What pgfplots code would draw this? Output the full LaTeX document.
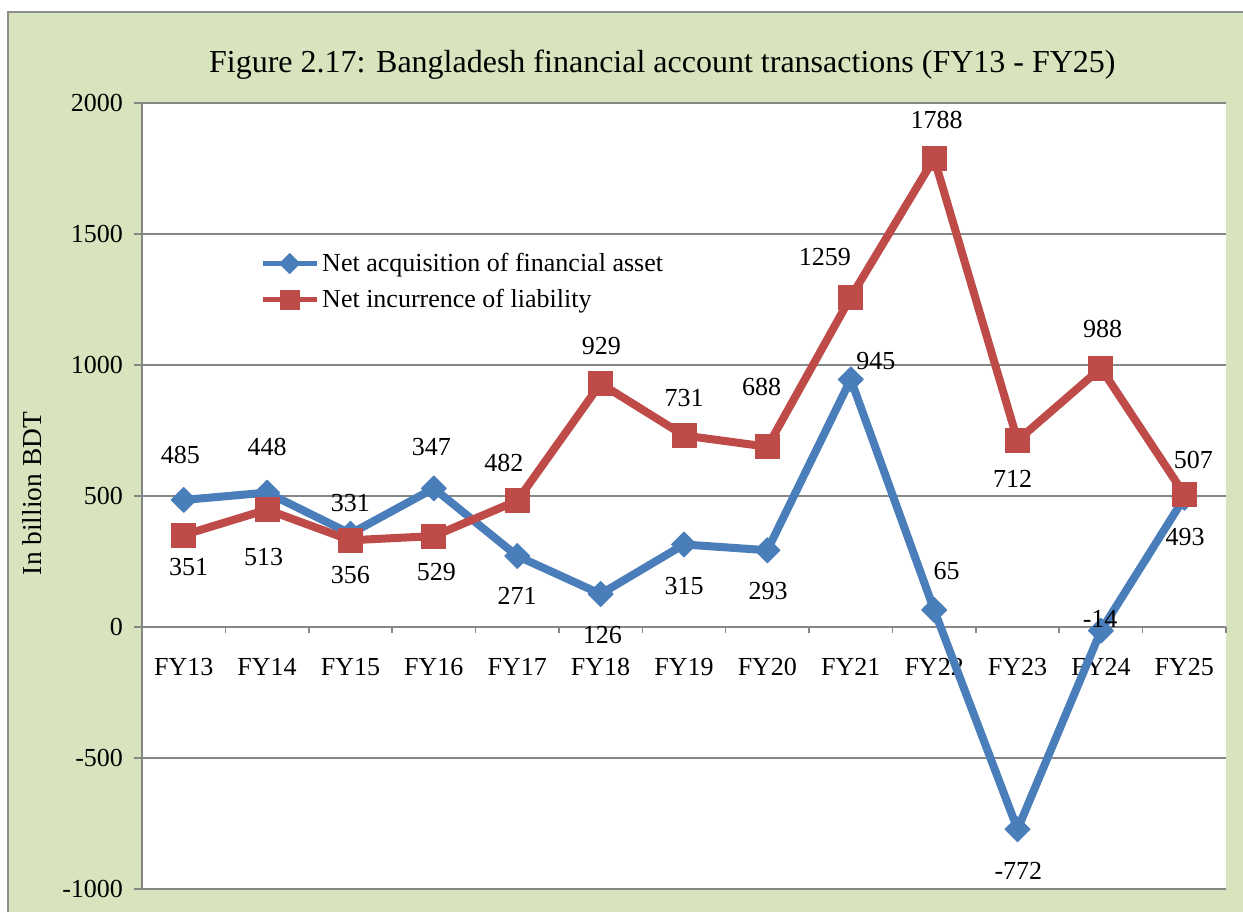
\documentclass[border=0pt]{standalone}
\usepackage{pgfplots}
\usepackage{pgfplotstable}
\pgfplotsset{compat=1.18}
\usepackage{fontspec}
\setmainfont{Liberation Serif}
\definecolor{bg}{HTML}{D7E4BD}
\definecolor{framec}{HTML}{8C8C8C}
\definecolor{gridc}{HTML}{868686}
\definecolor{sblue}{HTML}{4A7EBB}
\definecolor{sred}{HTML}{BE4B48}
\newcommand{\fs}{\fontsize{13}{15.6}\selectfont}

\pgfplotstableread{
x y
0 485
1 513
2 356
3 529
4 271
5 126
6 315
7 293
8 945
9 65
10 -772
11 -14
12 493
}\blueseries

\pgfplotstableread{
x y
0 351
1 448
2 331
3 347
4 482
5 929
6 731
7 688
8 1259
9 1788
10 712
11 988
12 507
}\redseries

% data label positions (x, y of label centre, text)
\pgfplotstableread{
x y l
-0.04 656 485
0.06 229 351
1.0 687 448
0.96 267 513
2.0 473 331
2.0 198 356
2.97 687 347
3.03 210 529
3.84 626 482
4.0 118 271
5.01 1073 929
5.02 -31 126
6.0 874 731
6.0 156 315
6.93 916 688
7.01 137 293
7.69 1412 1259
8.30 1015 945
9.03 1935 1788
9.15 214 65
9.94 565 712
10.01 -931 -772
11.02 1137 988
10.99 31 -14
12.11 637 507
12.01 343 493
}\labeltable

\begin{document}
\begin{tikzpicture}
\useasboundingbox (0,0) rectangle (621.5pt,456pt);
\fill[white] (0,0) rectangle (621.5pt,456pt);
\fill[bg] (4pt,0) rectangle (621.5pt,450pt);
\draw[framec,line width=1pt] (4pt,0) -- (4pt,450pt) -- (621.5pt,450pt);
\begin{axis}[
  at={(71pt,11.5pt)}, anchor=south west,
  scale only axis, width=542pt, height=393pt,
  xmin=-0.5, xmax=12.5, ymin=-1000, ymax=2000,
  axis background/.style={fill=white},
  axis x line*=middle, axis y line*=left,
  axis line style={gridc, line width=0.75pt},
  xtick={0,...,12},
  xticklabels={FY13,FY14,FY15,FY16,FY17,FY18,FY19,FY20,FY21,FY22,FY23,FY24,FY25},
  minor xtick={-0.5,0.5,...,12.5},
  major x tick style={draw=none},
  minor x tick style={gridc, line width=0.75pt},
  minor tick length=3pt,
  major tick length=4pt,
  tick align=outside,
  ytick={-1000,-500,...,2000},
  ymajorgrids,
  grid style={gridc, line width=0.75pt},
  ytick style={gridc, line width=0.75pt},
  tick label style={font=\fs},
  /pgf/number format/assume math mode=true,
  /pgf/number format/1000 sep={},
  xticklabel style={yshift=-8pt},
  yticklabel style={xshift=-2pt},
  ylabel={In billion BDT},
  every axis y label/.style={at={(axis description cs:-0.101,0.503)}, rotate=90, anchor=center, font=\fontsize{13.7}{16}\selectfont},
  title={Figure 2.17: Bangladesh financial account transactions (FY13 - FY25)},
  title style={at={(axis description cs:0.48,1)}, anchor=center, yshift=13pt, font=\fontsize{16}{19}\selectfont},
  legend style={at={(axis description cs:0.103,0.82)}, anchor=north west, draw=none, fill=none, font=\fs, row sep=3.5pt, nodes={inner xsep=1.5pt}},
  legend cell align=left,
  legend image code/.code={\draw[line width=2.6pt, mark repeat=2,mark phase=2, every mark/.append style={scale=0.8}] plot coordinates {(0pt,0pt) (13.5pt,0pt) (27pt,0pt)};},
  clip=false,
]
\addplot[sblue, line width=4pt, line join=round, mark=square*, mark size=4.4pt, mark options={rotate=45, solid, line width=0.5pt}] table {\blueseries};
\addlegendentry{Net acquisition of financial asset}
\addplot[sred, line width=4pt, line join=round, mark=square*, mark size=6pt, mark options={solid, line width=0.5pt}] table {\redseries};
\addlegendentry{Net incurrence of liability}
\addplot[draw=none, mark=none, forget plot, nodes near coords, point meta=explicit symbolic,
  nodes near coords align={anchor=center},
  every node near coord/.append style={font=\fs, text=black, inner sep=0pt}] table[meta=l] {\labeltable};
\end{axis}
\end{tikzpicture}
\end{document}
